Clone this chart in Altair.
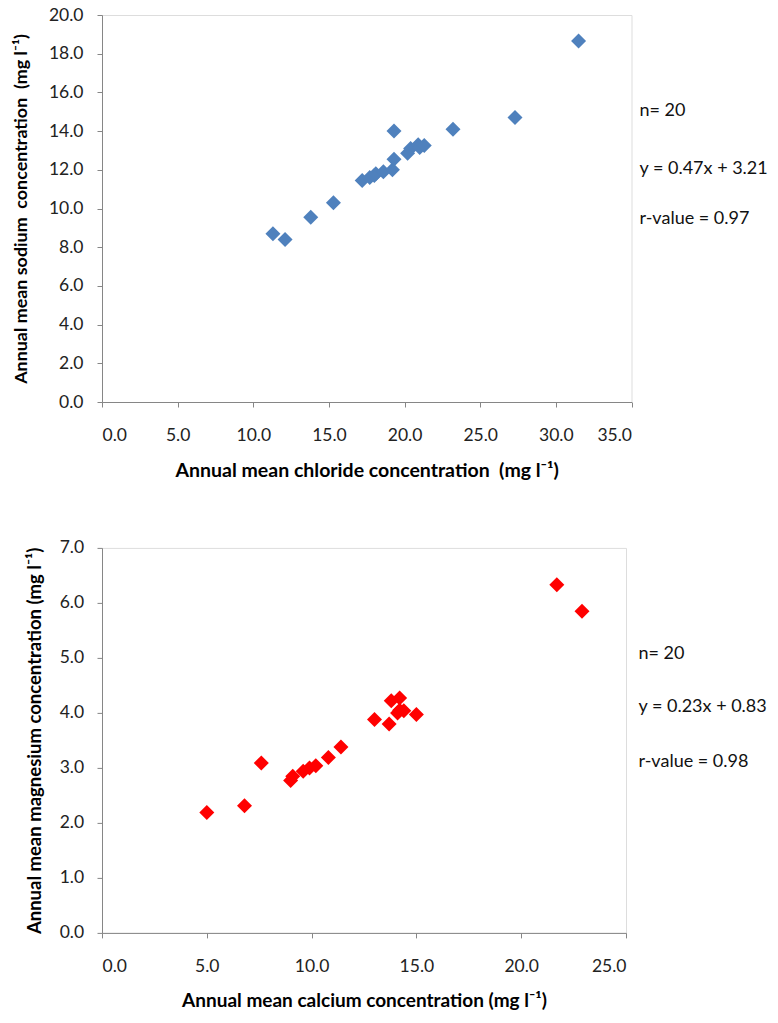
import altair as alt
import pandas as pd

# Top panel: chloride vs sodium
chloride = [31.5, 27.3, 23.2, 19.3, 11.3, 12.1, 13.8, 15.3, 17.2, 17.7,
            18.0, 18.1, 18.6, 19.2, 19.3, 20.2, 20.4, 20.9, 21.0, 21.3]
sodium = [18.65, 14.7, 14.1, 14.0, 8.7, 8.4, 9.55, 10.3, 11.45, 11.6,
          11.7, 11.8, 11.9, 12.0, 12.55, 12.85, 13.1, 13.3, 13.15, 13.25]
top_stats = ["n= 20", "y = 0.47x + 3.21", "r-value = 0.97"]

# Bottom panel: calcium vs magnesium
calcium = [5.0, 6.8, 7.6, 9.0, 9.1, 9.6, 9.9, 10.2, 10.8, 11.4,
           13.0, 13.7, 13.8, 14.2, 14.1, 14.4, 14.2, 15.0, 21.7, 22.9]
magnesium = [2.19, 2.31, 3.09, 2.77, 2.85, 2.94, 3.0, 3.04, 3.19, 3.38,
             3.88, 3.8, 4.22, 4.27, 4.0, 4.04, 4.05, 3.97, 6.33, 5.85]
bottom_stats = ["n= 20", "y = 0.23x + 0.83", "r-value = 0.98"]

FONT = "Lato"
AX = dict(grid=False, domainColor="#868686", tickColor="#868686", tickSize=5,
          labelFont=FONT, labelFontSize=17.5, labelColor="#222222",
          titleFont=FONT, titleColor="#000000",
          titleFontWeight="bold", format=".1f")

top_df = pd.DataFrame({"x": chloride, "y": sodium})
bot_df = pd.DataFrame({"x": calcium, "y": magnesium})


def stats_layers(lines, x0, ys):
    layers = []
    for t, yy in zip(lines, ys):
        layers.append(
            alt.Chart(pd.DataFrame({"t": [t]})).mark_text(
                align="left", baseline="middle", font=FONT, fontSize=18, color="#111111"
            ).encode(text="t:N", x=alt.value(x0), y=alt.value(yy))
        )
    return layers


top_pts = alt.Chart(top_df).mark_point(
    shape="diamond", filled=True, size=225, color="#4F81BD", opacity=1
).encode(
    x=alt.X("x:Q", scale=alt.Scale(domain=[0, 35], nice=False),
            axis=alt.Axis(values=list(range(0, 36, 5)),
                          title="Annual mean chloride concentration\u00a0 (mg l⁻¹)",
                          titleFontSize=19.5, titlePadding=17.6, labelPadding=19, **AX)),
    y=alt.Y("y:Q", scale=alt.Scale(domain=[0, 20], nice=False),
            axis=alt.Axis(values=list(range(0, 21, 2)),
                          title="Annual mean sodium\u00a0 concentration\u00a0 (mg l⁻¹)",
                          titleFontSize=17.9, titlePadding=18.1, labelPadding=14, **AX)),
)
top = alt.layer(top_pts, *stats_layers(top_stats, 537.5, [95.6, 153.6, 203.6])).properties(
    width=529.5, height=387)

bot_pts = alt.Chart(bot_df).mark_point(
    shape="diamond", filled=True, size=225, color="#FF0000", opacity=1
).encode(
    x=alt.X("x:Q", scale=alt.Scale(domain=[0, 25], nice=False),
            axis=alt.Axis(values=list(range(0, 26, 5)),
                          title="Annual mean calcium concentration (mg l⁻¹)",
                          titleFontSize=19, titlePadding=16.5, labelPadding=19.5, **AX)),
    y=alt.Y("y:Q", scale=alt.Scale(domain=[0, 7], nice=False),
            axis=alt.Axis(values=list(range(0, 8)),
                          title="Annual mean magnesium concentration (mg l⁻¹)",
                          titleFontSize=18.5, titlePadding=14.75, labelPadding=13.4, **AX)),
)
bottom = alt.layer(bot_pts, *stats_layers(bottom_stats, 536.5, [106, 159, 214])).properties(
    width=524, height=385)

chart = alt.concat(top, bottom, columns=1, spacing=56.9, align="none").properties(
    padding={"left": 3, "top": -3, "right": 0, "bottom": 0}
).configure_view(stroke=None).configure(background="white")

chart.save("out.html", embed_options={"renderer": "svg", "actions": False})
